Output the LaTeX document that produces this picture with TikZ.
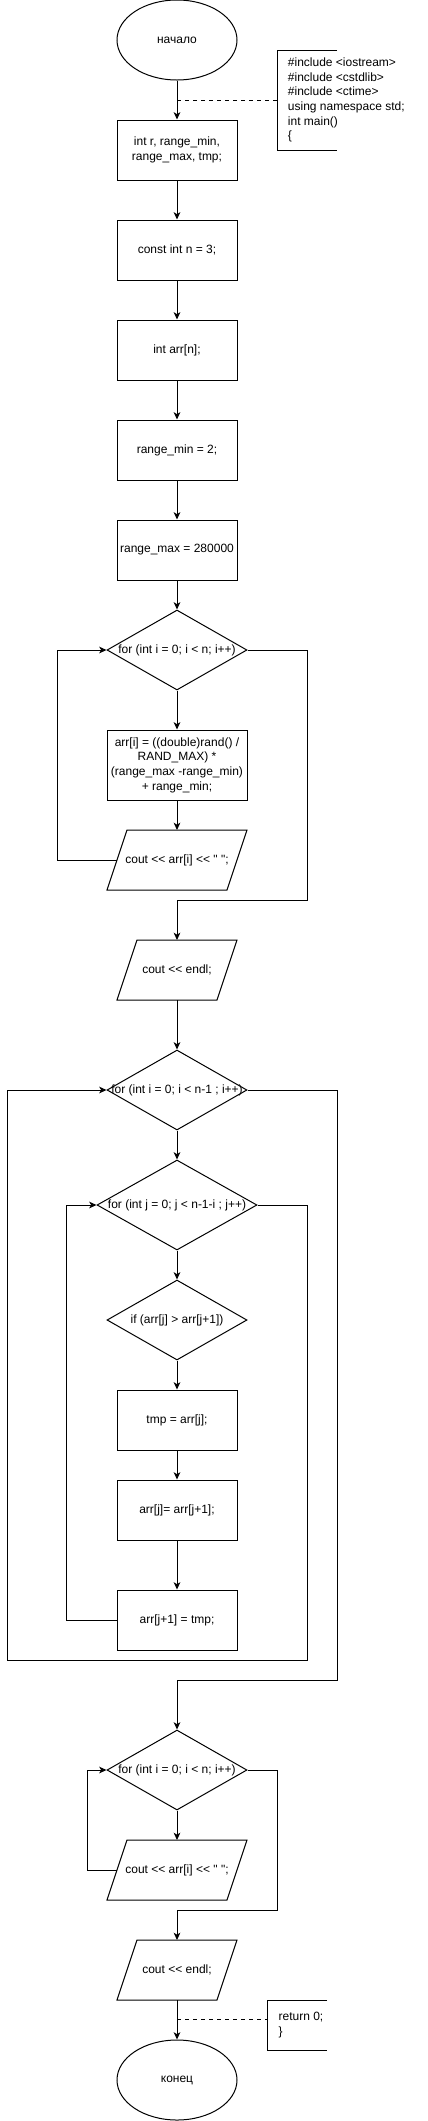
\documentclass[tikz,border=0pt]{standalone}
\usepackage{fontspec}
\setmainfont{Liberation Sans}[Ligatures=TeXOff]
\usetikzlibrary{arrows.meta,shapes.geometric,calc}

\tikzset{
  block/.style={rectangle, draw=black, line width=0.75pt, minimum width=90pt, minimum height=45pt, inner sep=1pt, align=center},
  term/.style={ellipse, draw=black, line width=0.75pt, minimum width=90pt, minimum height=60pt, inner sep=0pt},
  cond/.style={diamond, draw=black, line width=0.75pt, minimum width=105pt, minimum height=60pt, inner sep=0pt},
  io/.style={rectangle, minimum width=90pt, minimum height=45pt, inner sep=0pt, outer sep=0pt},
  notebox/.style={rectangle, inner sep=0pt, outer sep=0pt},
  note/.style={align=left, inner sep=0pt, anchor=west},
  flow/.style={-{Stealth[length=5.5pt,width=5pt,inset=1.5pt]}, line width=0.75pt},
  link/.style={dashed, line width=0.75pt},
}

\begin{document}
\begin{tikzpicture}[x=0.75pt, y=-0.75pt, font=\fontsize{9}{11}\selectfont]
  \useasboundingbox (0,0) rectangle (428,2121);

  % main column
  \node (start) [term] at (177,40) {начало};
  \node (rdecl) [block] at (177,150) {int r, range\_min,\\range\_max, tmp;};
  \node (ndecl) [block] at (177,250) {const int n = 3;};
  \node (adecl) [block] at (177,350) {int arr[n];};
  \node (rmin) [block] at (177,450) {range\_min = 2;};
  \node (rmax) [block] at (177,550) {range\_max = 280000};
  \node (fill) [cond] at (177,650) {\makebox[0pt]{for (int i = 0; i < n; i++)}};
  \node (rnd) [block, minimum width=105pt, minimum height=52.5pt] at (177,765) {arr[i] = ((double)rand() /\\RAND\_MAX) *\\(range\_max -range\_min)\\+ range\_min;};
  \node (out1) [io] at (177,860) {cout << arr[i] << " ";};
  \node (endl1) [io, minimum width=75pt] at (177,970) {cout << endl;};

  % sorting
  \node (fori) [cond] at (177,1090) {\makebox[0pt]{for (int i = 0; i < n-1 ; i++)}};
  \node (forj) [cond, minimum width=120pt, minimum height=67.5pt] at (177,1205) {\makebox[0pt]{for (int j = 0; j < n-1-i ; j++)}};
  \node (cmp) [cond] at (177,1320) {\makebox[0pt]{if (arr[j] > arr[j+1])}};
  \node (swap1) [block] at (177,1420) {tmp = arr[j];};
  \node (swap2) [block] at (177,1510) {arr[j]= arr[j+1];};
  \node (swap3) [block] at (177,1620) {arr[j+1] = tmp;};

  % output
  \node (forp) [cond] at (177,1770) {\makebox[0pt]{for (int i = 0; i < n; i++)}};
  \node (out2) [io] at (177,1870) {cout << arr[i] << " ";};
  \node (endl2) [io, minimum width=75pt] at (177,1970) {cout << endl;};
  \node (stop) [term] at (177,2080) {конец};

  % slanted outlines of the io nodes
  \foreach \n in {out1, endl1, out2, endl2}
    \draw [line width=0.75pt] ($(\n.south west)+(-10,0)$) -- ($(\n.south east)+(-10,0)$)
      -- ($(\n.north east)+(10,0)$) -- ($(\n.north west)+(10,0)$) -- cycle;

  % comments
  \node (incbox) [notebox, minimum width=45pt, minimum height=75pt] at (307,100) {};
  \node (inc) [note] at ([xshift=8pt]incbox.west) {\#include <iostream>\\\#include <cstdlib>\\\#include <ctime>\\using namespace std;\\int main()\\\{};
  \draw [line width=0.75pt] (incbox.north east) -- (incbox.north west) -- (incbox.south west) -- (incbox.south east);
  \node (retbox) [notebox, minimum width=45pt, minimum height=37.5pt] at (297,2025) {};
  \node (ret) [note] at ([xshift=8.5pt]retbox.west) {return 0;\\\}};
  \draw [line width=0.75pt] (retbox.north east) -- (retbox.north west) -- (retbox.south west) -- (retbox.south east);

  \path [flow]
  (start) edge (rdecl)
  (rdecl) edge (ndecl)
  (ndecl) edge (adecl)
  (adecl) edge (rmin)
  (rmin) edge (rmax)
  (rmax) edge (fill)
  (fill) edge (rnd)
  (rnd) edge (out1)
  (endl1) edge (fori)
  (fori) edge (forj)
  (forj) edge (cmp)
  (cmp) edge (swap1)
  (swap1) edge (swap2)
  (swap2) edge (swap3)
  (forp) edge (out2)
  (endl2) edge (stop);

  % loops
  \draw [flow] (out1.west) -- ++(-60,0) |- (fill.west);
  \draw [flow] (fill.east) -- ++(60,0) -- ++(0,250) -| (endl1.north);
  \draw [flow] (swap3.west) -- ++(-50,0) |- (forj.west);
  \draw [flow] (forj.east) -- ++(50,0) -- ++(0,455) -- ++(-300,0) |- (fori.west);
  \draw [flow] (fori.east) -- ++(90,0) -- ++(0,590) -| (forp.north);
  \draw [flow] (out2.west) -- ++(-30,0) |- (forp.west);
  \draw [flow] (forp.east) -- ++(30,0) -- ++(0,140) -| (endl2.north);

  \coordinate (c1) at ($(start.south)!0.5!(rdecl.north)$);
  \coordinate (c2) at ($(endl2.south)!0.5!(stop.north)$);
  \draw [link] (c1) -- (incbox.west);
  \draw [link] (c2) -- (c2 -| retbox.west);
\end{tikzpicture}
\end{document}
